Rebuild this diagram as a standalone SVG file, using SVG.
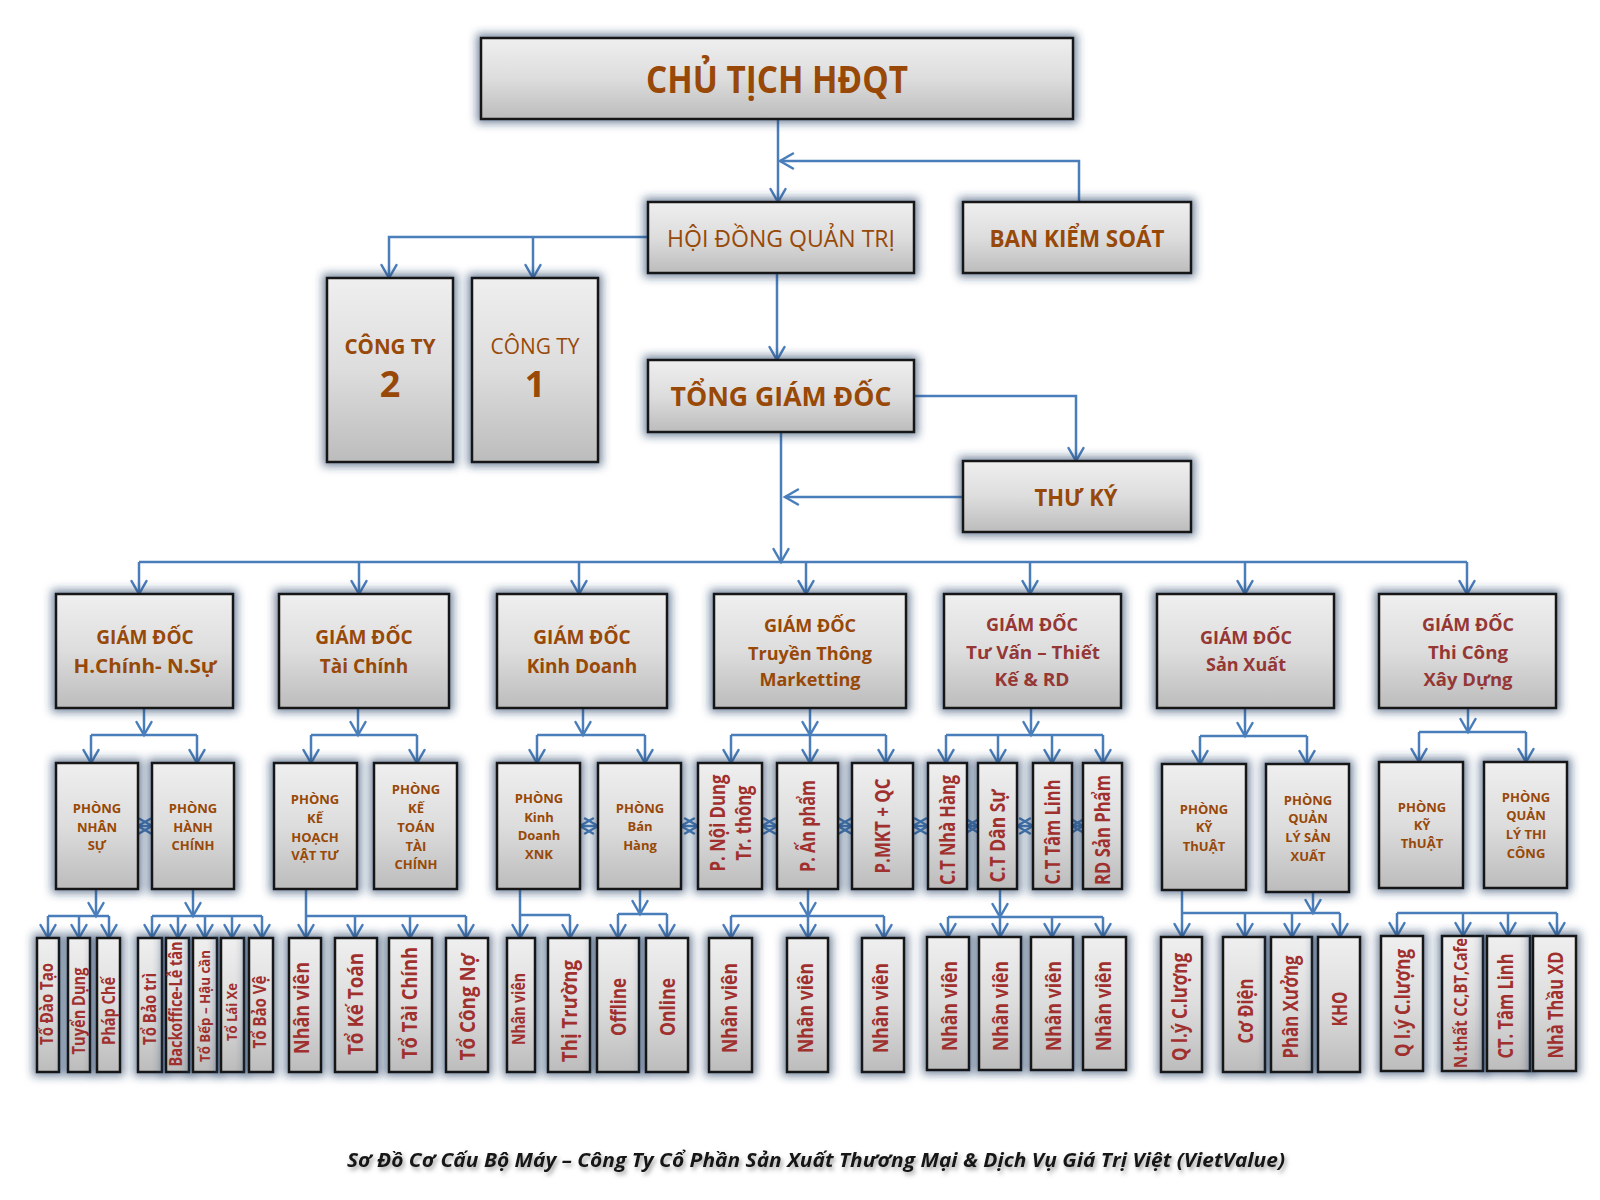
<svg xmlns="http://www.w3.org/2000/svg" width="1600" height="1200" viewBox="0 0 1600 1200">
<defs>
<linearGradient id="gg" x1="0" y1="0" x2="0" y2="1">
<stop offset="0" stop-color="#EFEFEF"/>
<stop offset="0.5" stop-color="#DDDDDD"/>
<stop offset="1" stop-color="#BCBCBC"/>
</linearGradient>
<filter id="sh" x="-0.6" y="-0.3" width="2.2" height="1.6">
<feMorphology in="SourceAlpha" operator="dilate" radius="3" result="d"/>
<feGaussianBlur in="d" stdDeviation="4" result="b"/>
<feFlood flood-color="#1F3A5F" flood-opacity="0.6"/>
<feComposite in2="b" operator="in" result="s"/>
<feMerge><feMergeNode in="s"/><feMergeNode in="SourceGraphic"/></feMerge>
</filter>
<filter id="tsh" x="-0.05" y="-0.5" width="1.1" height="2">
<feGaussianBlur in="SourceAlpha" stdDeviation="2" result="b"/>
<feOffset in="b" dx="2" dy="3" result="o"/>
<feFlood flood-color="#555555" flood-opacity="0.55"/>
<feComposite in2="o" operator="in" result="s"/>
<feMerge><feMergeNode in="s"/><feMergeNode in="SourceGraphic"/></feMerge>
</filter>
<marker id="ah" markerUnits="userSpaceOnUse" markerWidth="20" markerHeight="20" viewBox="-16 -10 20 20" refX="0" refY="0" orient="auto-start-reverse">
<path d="M-13,-7.5 L0,0 L-13,7.5" fill="none" stroke="#4A7EBB" stroke-width="2.5" stroke-linecap="round"/>
</marker>
</defs>
<style>
.b{fill:url(#gg);stroke:#161616;stroke-width:2.5;filter:url(#sh)}
.c{fill:none;stroke:#4A7EBB;stroke-width:2.5}
.a{marker-end:url(#ah)}
.d{marker-start:url(#ah);marker-end:url(#ah)}
text{font-family:"Open Sans","Noto Sans","DejaVu Sans",sans-serif;font-weight:700;text-anchor:middle}
.o{fill:#984807}
.r{fill:#953735}
.n{font-weight:400}
.p{font-size:13px;fill:#984807}
.g1{font-size:19px}
.g2{font-size:18px}
.v21{font-size:21px;fill:#A0302E}
.v17{font-size:17px;fill:#A0302E}
.v15{font-size:15px;fill:#A0302E}
.cap{font-size:19px;font-style:italic;fill:#141414;filter:url(#tsh)}
</style>
<rect width="1600" height="1200" fill="#FFFFFF"/>

<g id="connectors">
<path class="c a" d="M778,119 V202"/>
<path class="c a" d="M1079,202 V161 H780"/>
<path class="c a" d="M648,237 H389 V278"/>
<path class="c a" d="M533,237 V278"/>
<path class="c a" d="M777,273 V360"/>
<path class="c a" d="M914,396 H1076 V461"/>
<path class="c a" d="M963,497 H785"/>
<path class="c a" d="M781,432 V562"/>
<path class="c" d="M139,562 H1467"/>
<path class="c a" d="M139,562 V594"/>
<path class="c a" d="M359,562 V594"/>
<path class="c a" d="M579,562 V594"/>
<path class="c a" d="M806,562 V594"/>
<path class="c a" d="M1030,562 V594"/>
<path class="c a" d="M1245,562 V594"/>
<path class="c a" d="M1467,562 V594"/>

<path class="c a" d="M144,708 V735"/>
<path class="c" d="M91,735 H197"/>
<path class="c a" d="M91,735 V763"/>
<path class="c a" d="M197,735 V763"/>
<path class="c a" d="M358,708 V735"/>
<path class="c" d="M311,735 H417"/>
<path class="c a" d="M311,735 V763"/>
<path class="c a" d="M417,735 V763"/>
<path class="c a" d="M583,708 V735"/>
<path class="c" d="M537,735 H645"/>
<path class="c a" d="M537,735 V763"/>
<path class="c a" d="M645,735 V763"/>
<path class="c a" d="M810,708 V735"/>
<path class="c" d="M731,735 H886"/>
<path class="c a" d="M731,735 V763"/>
<path class="c a" d="M810,735 V763"/>
<path class="c a" d="M886,735 V763"/>
<path class="c a" d="M1031,708 V735"/>
<path class="c" d="M946,735 H1103"/>
<path class="c a" d="M946,735 V763"/>
<path class="c a" d="M998,735 V763"/>
<path class="c a" d="M1052,735 V763"/>
<path class="c a" d="M1103,735 V763"/>
<path class="c a" d="M1245,708 V736"/>
<path class="c" d="M1200,736 H1307"/>
<path class="c a" d="M1200,736 V764"/>
<path class="c a" d="M1307,736 V764"/>
<path class="c a" d="M1468,708 V732"/>
<path class="c" d="M1419,732 H1526"/>
<path class="c a" d="M1419,732 V762"/>
<path class="c a" d="M1526,732 V762"/>

<path class="c d" d="M138,826 H152"/>
<path class="c d" d="M580,826 H598"/>
<path class="c d" d="M681,826 H698"/>
<path class="c d" d="M762,826 H777"/>
<path class="c d" d="M838,826 H852"/>
<path class="c d" d="M913,826 H928"/>
<path class="c d" d="M967,826 H978"/>
<path class="c d" d="M1017,826 H1033"/>
<path class="c d" d="M1072,826 H1083"/>

<path class="c a" d="M96,889 V916"/>
<path class="c" d="M48,916 H109"/>
<path class="c a" d="M48,916 V938"/>
<path class="c a" d="M79,916 V938"/>
<path class="c a" d="M109,916 V938"/>
<path class="c a" d="M193,889 V916"/>
<path class="c" d="M152,916 H262"/>
<path class="c a" d="M152,916 V938"/>
<path class="c a" d="M178,916 V938"/>
<path class="c a" d="M205,916 V938"/>
<path class="c a" d="M232,916 V938"/>
<path class="c a" d="M262,916 V938"/>
<path class="c a" d="M306,889 V938"/>
<path class="c" d="M306,916 H466"/>
<path class="c a" d="M355,916 V938"/>
<path class="c a" d="M410,916 V938"/>
<path class="c a" d="M466,916 V938"/>
<path class="c a" d="M520,889 V938"/>
<path class="c" d="M520,915 H570"/>
<path class="c a" d="M570,915 V938"/>
<path class="c a" d="M640,889 V914"/>
<path class="c" d="M618,914 H667"/>
<path class="c a" d="M618,914 V938"/>
<path class="c a" d="M667,914 V938"/>
<path class="c a" d="M808,889 V916"/>
<path class="c" d="M731,916 H884"/>
<path class="c a" d="M731,916 V938"/>
<path class="c a" d="M808,916 V938"/>
<path class="c a" d="M884,916 V938"/>
<path class="c a" d="M1000,889 V917"/>
<path class="c" d="M948,917 H1103"/>
<path class="c a" d="M948,917 V937"/>
<path class="c a" d="M1000,917 V937"/>
<path class="c a" d="M1052,917 V937"/>
<path class="c a" d="M1103,917 V937"/>
<path class="c a" d="M1182,890 V937"/>
<path class="c" d="M1182,913 H1340"/>
<path class="c a" d="M1313,892 V913"/>
<path class="c a" d="M1245,913 V937"/>
<path class="c a" d="M1292,913 V937"/>
<path class="c a" d="M1340,913 V937"/>
<path class="c" d="M1397,913 H1557"/>
<path class="c a" d="M1397,913 V936"/>
<path class="c a" d="M1463,913 V936"/>
<path class="c a" d="M1508,913 V936"/>
<path class="c a" d="M1557,913 V936"/>
</g>

<g id="n-chutich"><rect class="b" x="481" y="38" width="592" height="81"/><text class="o" x="777" y="93" font-size="37" textLength="262" lengthAdjust="spacingAndGlyphs">CHỦ TỊCH HĐQT</text></g>
<g id="n-hdqt"><rect class="b" x="648" y="202" width="266" height="71"/><text class="o n" x="781" y="247" font-size="23" textLength="228" lengthAdjust="spacingAndGlyphs">HỘI ĐỒNG QUẢN TRỊ</text></g>
<g id="n-bks"><rect class="b" x="963" y="202" width="228" height="71"/><text class="o" x="1077" y="247" font-size="23" textLength="175" lengthAdjust="spacingAndGlyphs">BAN KIỂM SOÁT</text></g>
<g id="n-tgd"><rect class="b" x="648" y="360" width="266" height="72"/><text class="o" x="781" y="406" font-size="27" textLength="221" lengthAdjust="spacingAndGlyphs">TỔNG GIÁM ĐỐC</text></g>
<g id="n-thuky"><rect class="b" x="963" y="461" width="228" height="71"/><text class="o" x="1076" y="506" font-size="23" textLength="83" lengthAdjust="spacingAndGlyphs">THƯ KÝ</text></g>
<g id="n-congty2"><rect class="b" x="327" y="278" width="126" height="184"/><text class="o" x="390" y="354" font-size="22" textLength="91" lengthAdjust="spacingAndGlyphs">CÔNG TY</text><text class="o" x="390" y="397" font-size="36">2</text></g>
<g id="n-congty1"><rect class="b" x="472" y="278" width="126" height="184"/><text class="o n" x="535" y="354" font-size="22" textLength="89" lengthAdjust="spacingAndGlyphs">CÔNG TY</text><text class="o" x="535" y="397" font-size="36">1</text></g>

<g id="n-gd1"><rect class="b" x="56" y="594" width="177" height="114"/><text class="o g1" x="145" y="644">GIÁM ĐỐC</text><text class="o g1" x="145" y="673" textLength="143" lengthAdjust="spacingAndGlyphs">H.Chính- N.Sự</text></g>
<g id="n-gd2"><rect class="b" x="279" y="594" width="170" height="114"/><text class="o g1" x="364" y="644">GIÁM ĐỐC</text><text class="o g1" x="364" y="673">Tài Chính</text></g>
<g id="n-gd3"><rect class="b" x="497" y="594" width="170" height="114"/><text class="o g1" x="582" y="644">GIÁM ĐỐC</text><text class="o g1" x="582" y="673">Kinh Doanh</text></g>
<g id="n-gd4"><rect class="b" x="714" y="594" width="192" height="114"/><text class="o g2" x="810" y="632">GIÁM ĐỐC</text><text class="o g2" x="810" y="660" textLength="124" lengthAdjust="spacingAndGlyphs">Truyền Thông</text><text class="o g2" x="810" y="686" textLength="101" lengthAdjust="spacingAndGlyphs">Marketting</text></g>
<g id="n-gd5"><rect class="b" x="944" y="594" width="177" height="114"/><text class="r g2" x="1032" y="631">GIÁM ĐỐC</text><text class="r g2" x="1033" y="659" textLength="134" lengthAdjust="spacingAndGlyphs">Tư Vấn – Thiết</text><text class="r g2" x="1032" y="686" textLength="75" lengthAdjust="spacingAndGlyphs">Kế &amp; RD</text></g>
<g id="n-gd6"><rect class="b" x="1157" y="594" width="177" height="114"/><text class="r g2" x="1246" y="644">GIÁM ĐỐC</text><text class="r g2" x="1246" y="671" textLength="80" lengthAdjust="spacingAndGlyphs">Sản Xuất</text></g>
<g id="n-gd7"><rect class="b" x="1379" y="594" width="177" height="114"/><text class="r g2" x="1468" y="631">GIÁM ĐỐC</text><text class="r g2" x="1468" y="659" textLength="80" lengthAdjust="spacingAndGlyphs">Thi Công</text><text class="r g2" x="1468" y="686" textLength="89" lengthAdjust="spacingAndGlyphs">Xây Dựng</text></g>

<g id="n-nhansu"><rect class="b" x="56" y="763" width="82" height="126"/><text class="p" x="97" y="813">PHÒNG</text><text class="p" x="97" y="832">NHÂN</text><text class="p" x="97" y="850">SỰ</text></g>
<g id="n-hanhchinh"><rect class="b" x="152" y="763" width="82" height="126"/><text class="p" x="193" y="813">PHÒNG</text><text class="p" x="193" y="832">HÀNH</text><text class="p" x="193" y="850">CHÍNH</text></g>
<g id="n-khvt"><rect class="b" x="274" y="763" width="83" height="126"/><text class="p" x="315" y="804">PHÒNG</text><text class="p" x="315" y="823">KẾ</text><text class="p" x="315" y="842">HOẠCH</text><text class="p" x="315" y="860">VẬT TƯ</text></g>
<g id="n-kttc"><rect class="b" x="374" y="763" width="83" height="126"/><text class="p" x="416" y="794">PHÒNG</text><text class="p" x="416" y="813">KẾ</text><text class="p" x="416" y="832">TOÁN</text><text class="p" x="416" y="851">TÀI</text><text class="p" x="416" y="869">CHÍNH</text></g>
<g id="n-kdxnk"><rect class="b" x="497" y="763" width="83" height="126"/><text class="p" x="539" y="803">PHÒNG</text><text class="p" x="539" y="822">Kinh</text><text class="p" x="539" y="840">Doanh</text><text class="p" x="539" y="859">XNK</text></g>
<g id="n-banhang"><rect class="b" x="598" y="763" width="83" height="126"/><text class="p" x="640" y="813">PHÒNG</text><text class="p" x="640" y="831">Bán</text><text class="p" x="640" y="850">Hàng</text></g>
<g id="n-noidung"><rect class="b" x="698" y="763" width="64" height="126"/><text class="v21" x="725" y="823" transform="rotate(-90 725 823)" textLength="97" lengthAdjust="spacingAndGlyphs">P. Nội Dung</text><text class="v21" x="751" y="823" transform="rotate(-90 751 823)" textLength="75" lengthAdjust="spacingAndGlyphs">Tr. thông</text></g>
<g id="n-anpham"><rect class="b" x="777" y="763" width="61" height="126"/><text class="v21" x="815" y="826" transform="rotate(-90 815 826)" textLength="92" lengthAdjust="spacingAndGlyphs">P. Ấn phẩm</text></g>
<g id="n-mkt"><rect class="b" x="852" y="763" width="61" height="126"/><text class="v21" x="890" y="826" transform="rotate(-90 890 826)" textLength="95" lengthAdjust="spacingAndGlyphs">P.MKT + QC</text></g>
<g id="n-ctnhahang"><rect class="b" x="928" y="763" width="39" height="126"/><text class="v21" x="955" y="830" transform="rotate(-90 955 830)" textLength="110" lengthAdjust="spacingAndGlyphs">C.T Nhà Hàng</text></g>
<g id="n-ctdansu"><rect class="b" x="978" y="763" width="39" height="126"/><text class="v21" x="1005" y="836" transform="rotate(-90 1005 836)" textLength="93" lengthAdjust="spacingAndGlyphs">C.T Dân Sự</text></g>
<g id="n-cttamlinh"><rect class="b" x="1033" y="763" width="39" height="126"/><text class="v21" x="1060" y="832" transform="rotate(-90 1060 832)" textLength="105" lengthAdjust="spacingAndGlyphs">C.T Tâm Linh</text></g>
<g id="n-rdsanpham"><rect class="b" x="1083" y="763" width="39" height="126"/><text class="v21" x="1110" y="830" transform="rotate(-90 1110 830)" textLength="110" lengthAdjust="spacingAndGlyphs">RD Sản Phẩm</text></g>
<g id="n-kythuat6"><rect class="b" x="1162" y="764" width="84" height="126"/><text class="p" x="1204" y="814">PHÒNG</text><text class="p" x="1204" y="832">KỸ</text><text class="p" x="1204" y="851">ThUẬT</text></g>
<g id="n-qlsx"><rect class="b" x="1266" y="764" width="83" height="128"/><text class="p" x="1308" y="805">PHÒNG</text><text class="p" x="1308" y="823">QUẢN</text><text class="p" x="1308" y="842">LÝ SẢN</text><text class="p" x="1308" y="861">XUẤT</text></g>
<g id="n-kythuat7"><rect class="b" x="1379" y="762" width="84" height="126"/><text class="p" x="1422" y="812">PHÒNG</text><text class="p" x="1422" y="830">KỸ</text><text class="p" x="1422" y="848">ThUẬT</text></g>
<g id="n-qltc"><rect class="b" x="1484" y="762" width="83" height="126"/><text class="p" x="1526" y="802">PHÒNG</text><text class="p" x="1526" y="820">QUẢN</text><text class="p" x="1526" y="839">LÝ THI</text><text class="p" x="1526" y="858">CÔNG</text></g>

<g id="n-todaotao"><rect class="b" x="37" y="938" width="22" height="134"/><text class="v17" x="53" y="1004" transform="rotate(-90 53 1004)" textLength="82" lengthAdjust="spacingAndGlyphs">Tổ Đào Tạo</text></g>
<g id="n-tuyendung"><rect class="b" x="68" y="938" width="22" height="134"/><text class="v17" x="85" y="1011" transform="rotate(-90 85 1011)" textLength="87" lengthAdjust="spacingAndGlyphs">Tuyển Dụng</text></g>
<g id="n-phapche"><rect class="b" x="97" y="938" width="23" height="134"/><text class="v17" x="115" y="1011" transform="rotate(-90 115 1011)" textLength="68" lengthAdjust="spacingAndGlyphs">Pháp Chế</text></g>
<g id="n-tobaotri"><rect class="b" x="138" y="938" width="24" height="134"/><text class="v17" x="156" y="1009" transform="rotate(-90 156 1009)" textLength="72" lengthAdjust="spacingAndGlyphs">Tổ Bảo trì</text></g>
<g id="n-backoffice"><rect class="b" x="166" y="938" width="23" height="134"/><text class="v17" x="182" y="1004" transform="rotate(-90 182 1004)" textLength="125" lengthAdjust="spacingAndGlyphs">Backoffice-Lễ tân</text></g>
<g id="n-tobep"><rect class="b" x="193" y="938" width="24" height="134"/><text class="v15" x="210" y="1006" transform="rotate(-90 210 1006)" textLength="112" lengthAdjust="spacingAndGlyphs">Tổ Bếp – Hậu cần</text></g>
<g id="n-tolaixe"><rect class="b" x="221" y="938" width="23" height="134"/><text class="v15" x="237" y="1012" transform="rotate(-90 237 1012)" textLength="58" lengthAdjust="spacingAndGlyphs">Tổ Lái Xe</text></g>
<g id="n-tobaove"><rect class="b" x="249" y="938" width="24" height="134"/><text class="v17" x="266" y="1012" transform="rotate(-90 266 1012)" textLength="73" lengthAdjust="spacingAndGlyphs">Tổ Bảo Vệ</text></g>
<g id="n-nv-khvt"><rect class="b" x="289" y="938" width="32" height="134"/><text class="v21" x="309" y="1008" transform="rotate(-90 309 1008)" textLength="92" lengthAdjust="spacingAndGlyphs">Nhân viên</text></g>
<g id="n-toketoan"><rect class="b" x="335" y="938" width="42" height="134"/><text class="v21" x="363" y="1004" transform="rotate(-90 363 1004)" textLength="102" lengthAdjust="spacingAndGlyphs">Tổ Kế Toán</text></g>
<g id="n-totaichinh"><rect class="b" x="389" y="938" width="43" height="134"/><text class="v21" x="417" y="1003" transform="rotate(-90 417 1003)" textLength="112" lengthAdjust="spacingAndGlyphs">Tổ Tài Chính</text></g>
<g id="n-toconno"><rect class="b" x="446" y="938" width="42" height="134"/><text class="v21" x="475" y="1007" transform="rotate(-90 475 1007)" textLength="107" lengthAdjust="spacingAndGlyphs">Tổ Công Nợ</text></g>
<g id="n-nv-kd"><rect class="b" x="507" y="938" width="28" height="134"/><text class="v17" x="525" y="1009" transform="rotate(-90 525 1009)" textLength="72" lengthAdjust="spacingAndGlyphs">Nhân viên</text></g>
<g id="n-thitruong"><rect class="b" x="548" y="938" width="42" height="134"/><text class="v21" x="577" y="1011" transform="rotate(-90 577 1011)" textLength="102" lengthAdjust="spacingAndGlyphs">Thị Trường</text></g>
<g id="n-offline"><rect class="b" x="597" y="938" width="42" height="134"/><text class="v21" x="626" y="1007" transform="rotate(-90 626 1007)" textLength="58" lengthAdjust="spacingAndGlyphs">Offline</text></g>
<g id="n-online"><rect class="b" x="646" y="938" width="42" height="134"/><text class="v21" x="675" y="1007" transform="rotate(-90 675 1007)" textLength="58" lengthAdjust="spacingAndGlyphs">Online</text></g>
<g id="n-nv-ap1"><rect class="b" x="709" y="938" width="43" height="134"/><text class="v21" x="737" y="1008" transform="rotate(-90 737 1008)" textLength="90" lengthAdjust="spacingAndGlyphs">Nhân viên</text></g>
<g id="n-nv-ap2"><rect class="b" x="787" y="938" width="41" height="134"/><text class="v21" x="813" y="1008" transform="rotate(-90 813 1008)" textLength="90" lengthAdjust="spacingAndGlyphs">Nhân viên</text></g>
<g id="n-nv-ap3"><rect class="b" x="862" y="938" width="42" height="134"/><text class="v21" x="888" y="1008" transform="rotate(-90 888 1008)" textLength="90" lengthAdjust="spacingAndGlyphs">Nhân viên</text></g>
<g id="n-nv-ds1"><rect class="b" x="927" y="937" width="42" height="133"/><text class="v21" x="957" y="1006" transform="rotate(-90 957 1006)" textLength="90" lengthAdjust="spacingAndGlyphs">Nhân viên</text></g>
<g id="n-nv-ds2"><rect class="b" x="979" y="937" width="42" height="133"/><text class="v21" x="1008" y="1006" transform="rotate(-90 1008 1006)" textLength="90" lengthAdjust="spacingAndGlyphs">Nhân viên</text></g>
<g id="n-nv-ds3"><rect class="b" x="1031" y="937" width="42" height="133"/><text class="v21" x="1061" y="1006" transform="rotate(-90 1061 1006)" textLength="90" lengthAdjust="spacingAndGlyphs">Nhân viên</text></g>
<g id="n-nv-ds4"><rect class="b" x="1083" y="937" width="43" height="133"/><text class="v21" x="1111" y="1006" transform="rotate(-90 1111 1006)" textLength="90" lengthAdjust="spacingAndGlyphs">Nhân viên</text></g>
<g id="n-qlcl6"><rect class="b" x="1161" y="937" width="41" height="135"/><text class="v21" x="1187" y="1007" transform="rotate(-90 1187 1007)" textLength="108" lengthAdjust="spacingAndGlyphs">Q l.ý C.lượng</text></g>
<g id="n-codien"><rect class="b" x="1223" y="937" width="42" height="135"/><text class="v21" x="1253" y="1011" transform="rotate(-90 1253 1011)" textLength="65" lengthAdjust="spacingAndGlyphs">Cơ Điện</text></g>
<g id="n-phanxuong"><rect class="b" x="1271" y="937" width="41" height="135"/><text class="v21" x="1298" y="1007" transform="rotate(-90 1298 1007)" textLength="103" lengthAdjust="spacingAndGlyphs">Phân Xưởng</text></g>
<g id="n-kho"><rect class="b" x="1318" y="937" width="42" height="135"/><text class="v21" x="1347" y="1009" transform="rotate(-90 1347 1009)" textLength="35" lengthAdjust="spacingAndGlyphs">KHO</text></g>
<g id="n-qlcl7"><rect class="b" x="1381" y="936" width="42" height="135"/><text class="v21" x="1410" y="1003" transform="rotate(-90 1410 1003)" textLength="108" lengthAdjust="spacingAndGlyphs">Q l.ý C.lượng</text></g>
<g id="n-noithat"><rect class="b" x="1442" y="936" width="41" height="135"/><text class="v17" x="1467" y="1003" transform="rotate(-90 1467 1003)" textLength="130" lengthAdjust="spacingAndGlyphs">N.thất CC,BT,Cafe</text></g>
<g id="n-cttamlinh2"><rect class="b" x="1487" y="936" width="43" height="135"/><text class="v21" x="1513" y="1006" transform="rotate(-90 1513 1006)" textLength="105" lengthAdjust="spacingAndGlyphs">CT. Tâm Linh</text></g>
<g id="n-nhathau"><rect class="b" x="1533" y="936" width="43" height="135"/><text class="v21" x="1563" y="1005" transform="rotate(-90 1563 1005)" textLength="107" lengthAdjust="spacingAndGlyphs">Nhà Thầu XD</text></g>

<g id="caption"><text class="cap" x="816" y="1167" textLength="938" lengthAdjust="spacingAndGlyphs">Sơ Đồ Cơ Cấu Bộ Máy – Công Ty Cổ Phần Sản Xuất Thương Mại &amp; Dịch Vụ Giá Trị Việt (VietValue)</text></g>
</svg>
